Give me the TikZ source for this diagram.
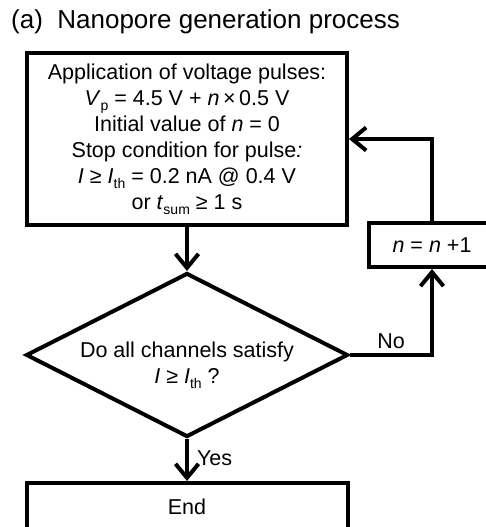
\documentclass[tikz,border=0pt]{standalone}
\usepackage{fontspec}
\setmainfont{Liberation Sans}
\usetikzlibrary{shapes.geometric,arrows.meta}
\newcommand\sbs[1]{\raisebox{-5pt}{\fontsize{14}{14}\selectfont #1}}
\begin{document}
\begin{tikzpicture}[x=1pt,y=-1pt,
  txt/.style={font=\fontsize{21.5}{26}\selectfont},
  box/.style={draw,line width=4pt,inner sep=0pt,align=center,txt},
  flow/.style={line width=4pt,-{Straight Barb[length=14pt,width=23pt]}},
  lbl/.style={txt,inner sep=0pt}]
\useasboundingbox (0,0) rectangle (485,527);
\node[anchor=base west,font=\fontsize{26}{30}\selectfont,inner sep=0pt] (title) at (11,29) {(a)\ \ Nanopore generation process};
\node[box,minimum width=320pt,minimum height=172pt] (top) at (187,139) {Application of voltage pulses:\\
\textit{V}\sbs{p} = 4.5 V + \textit{n}\,×\,0.5 V\\
Initial value of \textit{n} = 0\\
Stop condition for pulse\textit{:}\\
\textit{I} ≥ \textit{I}\sbs{th} = 0.2 nA @ 0.4 V\\
or \textit{t}\sbs{sum} ≥ 1 s};
\node[draw,shape=diamond,line width=4pt,inner sep=0pt,aspect=1.96,minimum width=322pt,minimum height=164pt] (dec) at (187,355) {};
\node[lbl,align=center] (dectext) at (187,365) {Do all channels satisfy\\\textit{I} ≥ \textit{I}\sbs{th} ?};
\node[box,minimum width=321pt,minimum height=47pt] (end) at (187,506.5) {End};
\node[box,minimum width=126pt,minimum height=44pt] (inc) at (432,245) {\textit{n} = \textit{n} +1};
\coordinate (turn) at (432,355);
\draw[flow] (top.south) -- (dec.north);
\draw[flow] (dec.south) -- node[lbl,right=8pt,pos=0.45] (yes) {Yes} (end.north);
\draw[flow] (dec.east) -- node[lbl,above=4pt] (no) {No} (turn) -- (inc.south);
\draw[flow] (inc.north) |- (top.east);
\end{tikzpicture}
\end{document}
